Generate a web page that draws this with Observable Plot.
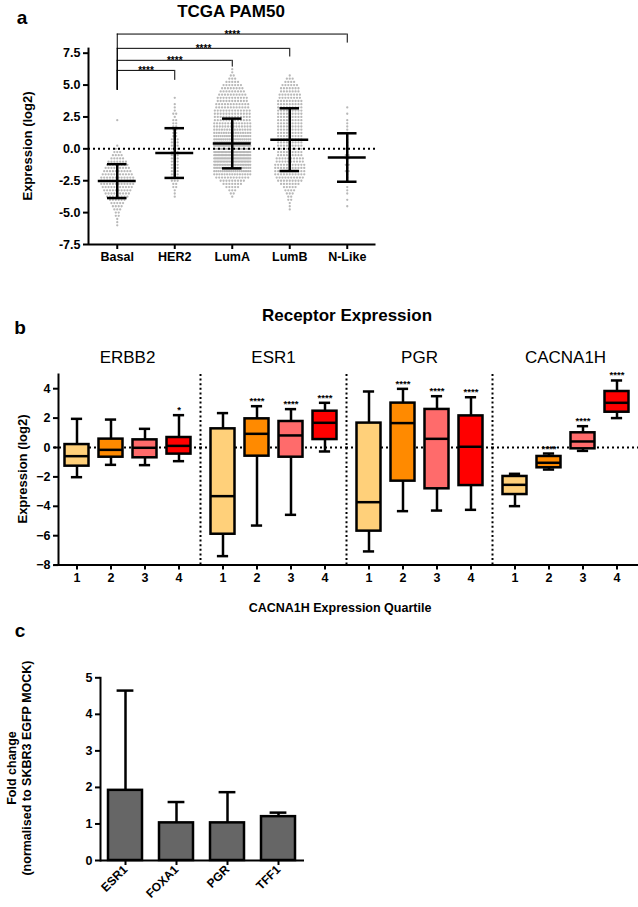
<!DOCTYPE html>
<html><head><meta charset="utf-8">
<script src="https://cdn.jsdelivr.net/npm/d3@7"></script>
<script src="https://cdn.jsdelivr.net/npm/@observablehq/plot@0.6"></script>
<style>
body{margin:0;background:#fff;font-family:"Liberation Sans",Arial,sans-serif;}
#wrap{position:relative;width:638px;height:907px;overflow:hidden;}
.lbl{position:absolute;font-weight:bold;color:#000;white-space:nowrap;transform:translate(-50%,-50%);line-height:1;}
.rot{transform:translate(-50%,-50%) rotate(-90deg);}
.pnl{position:absolute;left:0;}
</style></head>
<body><div id="wrap"></div>
<script>
// ---------- Panel a: TCGA PAM50 ----------
const pamGroups = ["Basal", "HER2", "LumA", "LumB", "N-Like"];
const pamMean = [-2.53, -0.33, 0.42, 0.72, -0.68];
const pamSD = [1.33, 1.95, 1.95, 2.46, 1.9];
// scatter points read as counts per 0.25-unit row, starting at pamBinStart
const pamBinStart = [-6.0, -3.75, -3.75, -4.75, -4.5];
const basalCounts = [1,1,1,2,2,3,4,5,6,8,9,10,11,12,12,12,11,10,9,8,7,5,4,3,2,1,0,0,0,0,0,0,0,1];
const her2Counts = [1,1,1,2,2,3,3,3,3,3,3,3,3,3,3,3,3,3,3,2,2,2,2,2,2,1,2,1,1,1,0,1];
const lumACounts = [1,2,3,5,7,9,12,15,18,21,23,25,26,27,27,26,24,22,20,18,16,15,14,14,13,13,13,13,12,12,11,11,10,9,8,7,5,3,2,1,1];
const lumBCounts = [1,1,1,2,2,3,4,5,7,9,10,11,11,11,11,10,10,9,9,9,9,9,9,9,9,9,9,9,9,9,9,9,9,9,9,8,8,7,7,6,4,3,1];
const nLikeCounts = [1,0,1,0,1,1,1,0,1,1,1,2,1,2,1,2,2,1,2,1,1,1,1,1,1,1,1,1,0,1,0,1];
const pamCounts = [basalCounts, her2Counts, lumACounts, lumBCounts, nLikeCounts];
const sigTargets = [1, 2, 3, 4];
const sigLevel = [6.15, 6.94, 7.88, 9.0];
const sigDrop = [5.37, 6.41, 7.2, 8.29];
const sigBase = 4.59;
const sigText = ["****", "****", "****", "****"];
const yTicksA = [-7.5, -5, -2.5, 0, 2.5, 5, 7.5];

// ---------- Panel b: Receptor Expression ----------
const genes = ["ERBB2", "ESR1", "PGR", "CACNA1H"];
const quartiles = [1, 2, 3, 4];
const qColors = ["#FFD07A", "#FF8A00", "#FF6B6B", "#FF0000"];
// [whisker low, Q1, median, Q3, whisker high] per quartile
const erbb2Stats = [[-2.02,-1.27,-0.59,0.2,1.95],[-1.18,-0.66,-0.16,0.57,1.9],[-1.2,-0.7,-0.02,0.52,1.27],[-0.93,-0.45,0.11,0.68,2.2]];
const esr1Stats = [[-7.39,-5.9,-3.31,1.27,2.34],[-5.31,-0.59,0.93,1.95,2.81],[-4.58,-0.66,0.82,1.77,2.61],[-0.27,0.54,1.68,2.47,3.04]];
const pgrStats = [[-7.07,-5.69,-3.72,1.66,3.81],[-4.33,-2.29,1.66,3.02,3.99],[-4.29,-2.81,0.59,2.59,3.49],[-4.24,-2.59,0.05,2.15,3.42]];
const cacna1hStats = [[-3.99,-3.2,-2.54,-1.97,-1.79],[-1.5,-1.38,-1.04,-0.61,-0.41],[-0.23,-0.09,0.41,1.0,1.45],[2.0,2.4,3.04,3.81,4.56]];
const erbb2Sig = ["", "", "", "*"];
const esr1Sig = ["", "****", "****", "****"];
const pgrSig = ["", "****", "****", "****"];
const cacna1hSig = ["", "****", "****", "****"];
const yTicksB = [-8, -6, -4, -2, 0, 2, 4];

// ---------- Panel c: fold change ----------
const pcGenes = ["ESR1", "FOXA1", "PGR", "TFF1"];
const pcMean = [1.92, 1.03, 1.03, 1.2];
const pcSD = [2.73, 0.57, 0.84, 0.11];
const yTicksC = [0, 1, 2, 3, 4, 5];

const FONT = "Liberation Sans, Arial, Helvetica, sans-serif";
const wrap = document.getElementById("wrap");
function label(text, x, y, size, extra) {
  const d = document.createElement("div");
  d.className = "lbl" + (extra && extra.rot ? " rot" : "");
  d.textContent = text;
  d.style.left = x + "px"; d.style.top = y + "px"; d.style.fontSize = size + "px";
  if (extra && extra.weight) d.style.fontWeight = extra.weight;
  wrap.appendChild(d);
}
function place(svg, top) {
  svg.classList.add("pnl");
  svg.style.top = top + "px";
  wrap.appendChild(svg);
}
const baseStyle = {fontFamily: FONT, background: "transparent", overflow: "visible", color: "black"};

// ===== Panel a =====
const pxPerGroup = 57.5;
const pamPoints = [];
pamCounts.forEach((counts, g) => {
  counts.forEach((n, i) => {
    const sp = n > 1 ? Math.min(2.9, 36 / (n - 1)) : 0;
    for (let j = 0; j < n; j++) {
      pamPoints.push({x: g + ((j - (n - 1) / 2) * sp) / pxPerGroup, y: pamBinStart[g] + i * 0.25});
    }
  });
});
const pamStats = pamGroups.map((name, i) => ({i, mean: pamMean[i], lo: pamMean[i] - pamSD[i], hi: pamMean[i] + pamSD[i]}));
const brackets = sigTargets.map((t, k) => ({t, level: sigLevel[k], drop: sigDrop[k], text: sigText[k]}));
const xDomA = [-0.5, 4.5];
const plotA = Plot.plot({
  width: 638, height: 290,
  marginLeft: 88, marginRight: 638 - 375.5, marginTop: 31, marginBottom: 46,
  x: {domain: xDomA, axis: null},
  y: {domain: [-7.5, 9.2], axis: null},
  style: baseStyle,
  marks: [
    Plot.dot(pamPoints, {x: "x", y: "y", r: 1.15, fill: "#b8b8b8", stroke: "none"}),
    Plot.ruleY([0], {stroke: "black", strokeWidth: 2, strokeDasharray: "2,3"}),
    Plot.ruleX(pamStats, {x: "i", y1: "lo", y2: "hi", stroke: "black", strokeWidth: 2.5}),
    Plot.ruleY(pamStats, {y: "mean", x1: d => d.i - 0.33, x2: d => d.i + 0.33, stroke: "black", strokeWidth: 2.5}),
    Plot.ruleY(pamStats, {y: "lo", x1: d => d.i - 0.17, x2: d => d.i + 0.17, stroke: "black", strokeWidth: 2.5}),
    Plot.ruleY(pamStats, {y: "hi", x1: d => d.i - 0.17, x2: d => d.i + 0.17, stroke: "black", strokeWidth: 2.5}),
    // significance brackets
    Plot.ruleX(brackets, {x: 0, y1: sigBase, y2: "level", stroke: "black", strokeWidth: 1}),
    Plot.ruleX(brackets, {x: "t", y1: "drop", y2: "level", stroke: "black", strokeWidth: 1}),
    Plot.ruleY(brackets, {y: "level", x1: 0, x2: "t", stroke: "black", strokeWidth: 1}),
    Plot.text(brackets, {x: d => d.t / 2, y: "level", text: "text", fontSize: 10, fontWeight: "bold", lineAnchor: "bottom", dy: 4, fill: "black"}),
    // axes
    Plot.ruleX([xDomA[0]], {y1: -7.5, y2: 7.9, stroke: "black", strokeWidth: 2}),
    Plot.ruleY([-7.5], {stroke: "black", strokeWidth: 2}),
    Plot.axisY(yTicksA, {tickSize: 5, tickPadding: 3, strokeWidth: 2, fontSize: 12.5, fontWeight: "bold", tickFormat: d => d.toFixed(1), label: null}),
    Plot.axisX([0, 1, 2, 3, 4], {tickSize: 5, tickPadding: 3, strokeWidth: 2, fontSize: 12.5, fontWeight: "bold", tickFormat: i => pamGroups[i], label: null})
  ]
});
place(plotA, 0);
label("a", 22, 17, 19);
label("TCGA PAM50", 231, 11, 17);
label("Expression (log2)", 27, 146, 13, {rot: true});

// ===== Panel b =====
const geneStats = [erbb2Stats, esr1Stats, pgrStats, cacna1hStats];
const geneSig = [erbb2Sig, esr1Sig, pgrSig, cacna1hSig];
const boxes = [];
genes.forEach((g, gi) => quartiles.forEach((q, qi) => {
  const s = geneStats[gi][qi];
  boxes.push({gene: g, q, lo: s[0], q1: s[1], med: s[2], q3: s[3], hi: s[4], sig: geneSig[gi][qi], color: qColors[qi]});
}));
const facetW = 146, stepB = 34;
const xDomB = [1 - 22.5 / stepB, 1 - 22.5 / stepB + facetW / stepB];
const hb = 0.353, hc = 0.165;
const plotB = Plot.plot({
  width: 638, height: 330,
  marginLeft: 54, marginRight: 0, marginTop: 83.5, marginBottom: 55.4,
  fx: {domain: genes, padding: 0},
  x: {domain: xDomB},
  y: {domain: [-8, 5]},
  color: {type: "identity"},
  style: baseStyle,
  marks: [
    Plot.ruleY([0], {stroke: "black", strokeWidth: 2, strokeDasharray: "2,3"}),
    Plot.ruleX(genes.slice(1).map(g => ({gene: g})), {fx: "gene", x: xDomB[0], y1: -8, y2: 5, stroke: "black", strokeWidth: 2, strokeDasharray: "2,2.6"}),
    Plot.ruleX(boxes, {fx: "gene", x: "q", y1: "lo", y2: "hi", stroke: "black", strokeWidth: 2.5}),
    Plot.ruleY(boxes, {fx: "gene", y: "lo", x1: d => d.q - hc, x2: d => d.q + hc, stroke: "black", strokeWidth: 2.5}),
    Plot.ruleY(boxes, {fx: "gene", y: "hi", x1: d => d.q - hc, x2: d => d.q + hc, stroke: "black", strokeWidth: 2.5}),
    Plot.rect(boxes, {fx: "gene", x1: d => d.q - hb, x2: d => d.q + hb, y1: "q1", y2: "q3", fill: "color", stroke: "black", strokeWidth: 2.5}),
    Plot.ruleY(boxes, {fx: "gene", y: "med", x1: d => d.q - hb, x2: d => d.q + hb, stroke: "black", strokeWidth: 2.5}),
    Plot.text(boxes, {fx: "gene", x: "q", y: "hi", text: "sig", fontSize: 9.5, fontWeight: "bold", lineAnchor: "bottom", dy: -2, fill: "black"}),
    Plot.ruleX([{gene: "ERBB2"}], {fx: "gene", x: xDomB[0] + 4 / stepB, y1: -8, y2: 5, stroke: "black", strokeWidth: 2}),
    Plot.ruleY([-8], {stroke: "black", strokeWidth: 2}),
    Plot.axisY(yTicksB, {dx: 4, tickSize: 5, tickPadding: 3, strokeWidth: 2, fontSize: 12.5, fontWeight: "bold", label: null}),
    Plot.axisX(quartiles, {tickSize: 5, tickPadding: 3, strokeWidth: 2, fontSize: 12.5, fontWeight: "bold", label: null}),
    Plot.axisFx({anchor: "top", label: null, tickSize: 0, tickPadding: 11, fontSize: 17})
  ]
});
place(plotB, 290);
label("b", 20, 327, 19);
label("Receptor Expression", 347, 315, 17);
label("Expression (log2)", 22, 469, 13, {rot: true});
label("CACNA1H Expression Quartile", 340, 608, 12.5);

// ===== Panel c =====
const pcData = pcGenes.map((g, i) => ({gene: g, mean: pcMean[i], hi: pcMean[i] + pcSD[i]}));
const plotC = Plot.plot({
  width: 638, height: 287,
  marginLeft: 100, marginRight: 334, marginTop: 57.3, marginBottom: 47,
  x: {domain: pcGenes, paddingInner: 0.33, paddingOuter: 0.15},
  y: {domain: [0, 5]},
  style: baseStyle,
  marks: [
    Plot.ruleX(pcData, {x: "gene", y1: "mean", y2: "hi", stroke: "black", strokeWidth: 2.5}),
    Plot.tickY(pcData, {x: "gene", y: "hi", insetLeft: 8.6, insetRight: 8.6, stroke: "black", strokeWidth: 2.5}),
    Plot.barY(pcData, {x: "gene", y: "mean", fill: "#666666", stroke: "black", strokeWidth: 2.5}),
    Plot.ruleY([0], {stroke: "black", strokeWidth: 2}),
    Plot.frame({anchor: "left", stroke: "black", strokeWidth: 2}),
    Plot.axisY(yTicksC, {tickSize: 5, tickPadding: 3, strokeWidth: 2, fontSize: 12.5, fontWeight: "bold", label: null}),
    Plot.axisX({tickSize: 5, tickPadding: 2, strokeWidth: 2, fontSize: 12, fontWeight: "bold", tickRotate: -45, label: null})
  ]
});
place(plotC, 620);
label("c", 20, 630, 19);
label("Fold change", 12, 768, 12.5, {rot: true});
label("(normalised to SKBR3 EGFP MOCK)", 27, 768, 12.5, {rot: true});
</script>
</body></html>
